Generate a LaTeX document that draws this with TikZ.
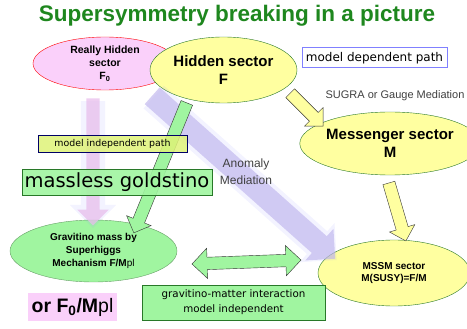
\documentclass[tikz,border=0pt]{standalone}
\usepackage{fontspec}
\setmainfont{Liberation Sans}
\newfontfamily\gothic{DejaVu Sans}
\usetikzlibrary{shapes.geometric,shapes.arrows,calc}
\definecolor{titlegreen}{RGB}{30,135,30}
\definecolor{pinkfill}{RGB}{250,208,250}
\definecolor{yellowfill}{RGB}{255,255,160}
\definecolor{greenfill}{RGB}{160,245,160}
\definecolor{limefill}{RGB}{222,242,120}
\definecolor{lavender}{RGB}{190,180,236}
\definecolor{pinkarrow}{RGB}{232,190,236}
\definecolor{edgegreen}{RGB}{40,120,40}
\newcommand{\blockarrow}[3]{%
    \path let \p1=($(#3)-(#2)$) in
        node[#1, rotate={atan2(\y1,\x1)}, minimum height={veclen(\x1,\y1)}] at ($(#2)!0.5!(#3)$) {};}

\begin{document}
\begin{tikzpicture}[x=1pt,y=-1pt]
    \tikzstyle{sector}=[ellipse, draw=edgegreen, fill=yellowfill, align=center, inner sep=0pt]
    \tikzstyle{small}=[font=\bfseries\fontsize{10}{12.7}\selectfont]
    \tikzstyle{large}=[font=\bfseries\fontsize{15}{17.5}\selectfont]
    \tikzstyle{pathbox}=[draw, inner sep=0pt, font=\gothic\fontsize{12}{14}\selectfont]
    \tikzstyle{arrowbase}=[single arrow, inner xsep=0pt, outer sep=0pt, minimum width=0pt, single arrow tip angle=90]
    \tikzstyle{yellowarrow}=[arrowbase, draw=black!80, fill=yellowfill, inner ysep=6pt, single arrow head extend=7pt]
    \tikzstyle{greenarrow}=[arrowbase, draw=black!80, fill=greenfill, inner ysep=6pt, single arrow head extend=7pt]
    \tikzstyle{note}=[text=black!75, align=center]
    \useasboundingbox (0,0) rectangle (467,329);
    \node[text=titlegreen, font=\bfseries\fontsize{22.5}{25}\selectfont] (title) at (237,16) {Supersymmetry breaking in a picture};
    \node[ellipse, draw=red, fill=pinkfill, minimum width=144, minimum height=53, align=center, inner sep=0pt, font=\bfseries\fontsize{10.5}{13.2}\selectfont] (really) at (105,63.5) {Really Hidden\\sector\\F\textsubscript{0}};
    \node[sector, minimum width=147, minimum height=66, large] (hidden) at (223.5,70) {Hidden sector\\F};
    \node[sector, minimum width=154, minimum height=63, large] (messenger) at (390,143.5) {Messenger sector\\M};
    \node[sector, minimum width=152, minimum height=66, small] (mssm) at (394,273) {MSSM sector\\M(SUSY)=F/M};
    \node[ellipse, draw=edgegreen!70, fill=greenfill, minimum width=167, minimum height=62, small, align=center, inner sep=0pt] (gravitino) at (93.5,251) {Gravitino mass by\\Superhiggs\\Mechanism F/M{\mdseries pl}};
    \coordinate (pinktail) at (93,95);
    \coordinate (pinktip) at (93,222);
    \coordinate (anomtail) at (148,92);
    \coordinate (anomtip) at (331,255);
    \coordinate (sugratail) at (288,91);
    \coordinate (sugratip) at (321,124);
    \coordinate (downtail) at (388,180);
    \coordinate (downtip) at (405,238);
    \coordinate (goldtail) at (188,100);
    \coordinate (goldtip) at (135,230);
    \coordinate (leftend) at (192,264);
    \coordinate (rightend) at (301,260);
    \blockarrow{arrowbase, fill=blue!40, opacity=0.12, inner ysep=12pt, single arrow head extend=11pt}{pinktail}{pinktip}
    \blockarrow{arrowbase, fill=pinkarrow, opacity=0.75, inner ysep=6.5pt, single arrow head extend=9pt}{pinktail}{pinktip}
    \blockarrow{arrowbase, fill=blue!40, opacity=0.12, inner ysep=15pt, single arrow head extend=11pt}{anomtail}{anomtip}
    \blockarrow{arrowbase, fill=lavender, opacity=0.65, inner ysep=11pt, single arrow head extend=10pt}{anomtail}{anomtip}
    \blockarrow{yellowarrow}{sugratail}{sugratip}
    \blockarrow{yellowarrow}{downtail}{downtip}
    \blockarrow{greenarrow}{goldtail}{goldtip}
    \blockarrow{double arrow, inner xsep=0pt, outer sep=0pt, minimum width=0pt, double arrow tip angle=90, draw=black!80, fill=greenfill, inner ysep=6pt, double arrow head extend=9pt}{leftend}{rightend}
    \node[pathbox, draw=blue!50, line width=1pt, fill=white, minimum width=145, minimum height=20] (dependent) at (374.5,58) {model dependent path};
    \node[note, font=\fontsize{11}{13}\selectfont] (sugra) at (395,96) {SUGRA or Gauge Mediation};
    \node[note, font=\fontsize{12}{17}\selectfont] (anomaly) at (246,172) {Anomaly\\Mediation};
    \node[pathbox, draw=blue!40!black, fill=limefill, fill opacity=0.85, text opacity=1, minimum width=149, minimum height=17, font=\gothic\fontsize{9.4}{11}\selectfont] (independent) at (112.5,143.5) {model independent path};
    \node[pathbox, draw=edgegreen, fill=greenfill, fill opacity=0.9, text opacity=1, minimum width=190, minimum height=26, font=\gothic\fontsize{19.5}{22}\selectfont] (goldstino) at (117,182) {massless goldstino};
    \node[pathbox, draw=edgegreen, fill=greenfill, minimum width=183, minimum height=35, align=center, font=\gothic\fontsize{10.3}{15}\selectfont] (matter) at (233.5,302.5) {gravitino-matter interaction\\model independent};
    \node[fill=pinkfill, minimum width=89, minimum height=28, inner sep=0pt, font=\bfseries\fontsize{19.5}{21}\selectfont] (orfzero) at (72.5,307) {or F\textsubscript{0}/M{\mdseries pl}};
\end{tikzpicture}
\end{document}
